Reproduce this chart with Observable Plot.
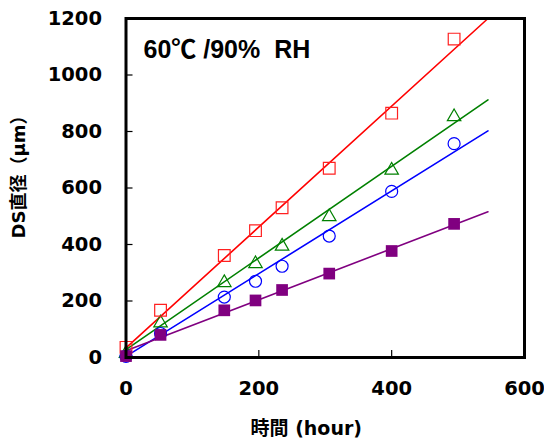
<!DOCTYPE html>
<html>
<head>
<meta charset="utf-8">
<script src="https://cdn.jsdelivr.net/npm/d3@7"></script>
<script src="https://cdn.jsdelivr.net/npm/@observablehq/plot@0.6"></script>
<style>
  html, body { margin: 0; padding: 0; background: #fff; }
</style>
</head>
<body>
<div id="chart"></div>
<script>
// ---- data ----
const hours   = [0, 52, 148, 195, 235, 306, 400, 494];
const redSq   = [36, 167, 361, 449, 530, 670, 865, 1127];   // open squares
const greenTr = [14, 122, 265, 332, 394, 498, 663, 852];    // open triangles
const blueCi  = [4, 85, 214, 270, 323, 430, 588, 757];      // open circles
const purpSq  = [5, 80, 167, 202, 239, 297, 377, 473];      // filled squares

// fitted lines (end points)
const fitX      = [0, 545];
const redFit    = [34, 1200];
const greenFit  = [28, 912];
const blueFit   = [4, 802];
const purpFit   = [24, 516];

const xTicks = [0, 200, 400, 600];
const yTicks = [0, 200, 400, 600, 800, 1000, 1200];
const xInner = [200, 400];
const yInner = [200, 400, 600, 800, 1000];

const xLabel = "時間 (hour)";
const yLabel = "DS直径（μm）";
const note   = "60℃ /90%\u00a0\u00a0RH";

// ---- build tables ----
const pts = (ys) => hours.map((h, i) => ({x: h, y: ys[i]}));
const fit = (ys) => fitX.map((h, i) => ({x: h, y: ys[i]}));

const W = 544, H = 443;
const mL = 125.5, mR = 20, mT = 18, mB = 86;
const plotW = W - mL - mR, plotH = H - mT - mB;

const font = "'DejaVu Sans', 'Noto Sans CJK JP', sans-serif";
const noteFont = "'Liberation Sans', 'Noto Sans CJK JP', sans-serif";

const chart = Plot.plot({
  width: W,
  height: H,
  marginLeft: mL,
  marginRight: mR,
  marginTop: mT,
  marginBottom: mB,
  x: {domain: [0, 600]},
  y: {domain: [0, 1200]},
  style: {fontFamily: font, fontWeight: "bold", fontSize: "19px", color: "black", background: "white", overflow: "visible"},
  marks: [
    Plot.axisX(xTicks, {tickSize: 0, tickPadding: 24, fontSize: 19.5, fontWeight: "bold", label: null, tickFormat: d => String(d)}),
    Plot.axisY(yTicks, {tickSize: 0, tickPadding: 24, fontSize: 19.5, fontWeight: "bold", label: null, tickFormat: d => String(d)}),
    Plot.tickX(xInner, {x: d => d, insetTop: plotH - 7, stroke: "black", strokeWidth: 1.2}),
    Plot.tickY(yInner, {y: d => d, insetRight: plotW - 7, stroke: "black", strokeWidth: 1.2}),

    Plot.line(fit(greenFit), {x: "x", y: "y", stroke: "#008000", strokeWidth: 1.6}),
    Plot.line(fit(blueFit),  {x: "x", y: "y", stroke: "#0000ff", strokeWidth: 1.6}),
    Plot.line(fit(redFit),   {x: "x", y: "y", stroke: "#ff0000", strokeWidth: 1.6}),
    Plot.line(fit(purpFit),  {x: "x", y: "y", stroke: "#800080", strokeWidth: 1.6}),

    Plot.dot(pts(greenTr), {x: "x", y: "y", symbol: "triangle", r: 5, stroke: "#008000", fill: "none", strokeWidth: 1.2}),
    Plot.dot(pts(blueCi),  {x: "x", y: "y", symbol: "circle", r: 6, stroke: "#0000ff", fill: "none", strokeWidth: 1.2}),
    Plot.dot(pts(redSq),   {x: "x", y: "y", symbol: "square", r: 6.6, stroke: "#ff2020", fill: "none", strokeWidth: 1.2}),
    Plot.dot(pts(purpSq),  {x: "x", y: "y", symbol: "square", r: 6.6, fill: "#800080", stroke: "none"}),

    Plot.frame({stroke: "black", strokeWidth: 3}),

    Plot.text([note], {text: d => d, frameAnchor: "top-left", dx: 17.5, dy: 31, textAnchor: "start", lineAnchor: "middle", fontSize: 25, fontWeight: "bold", fontFamily: noteFont, fill: "black"}),
    Plot.text([xLabel], {text: d => d, frameAnchor: "bottom", dx: -19, dy: 71, textAnchor: "middle", lineAnchor: "middle", fontSize: 19, fontWeight: "bold", fill: "black"}),
    Plot.text([yLabel], {text: d => d, frameAnchor: "left", dx: -107, dy: -15.5, rotate: -90, textAnchor: "middle", lineAnchor: "middle", fontSize: 18, fontWeight: "bold", fill: "black"})
  ]
});

document.getElementById("chart").appendChild(chart);
</script>
</body>
</html>
